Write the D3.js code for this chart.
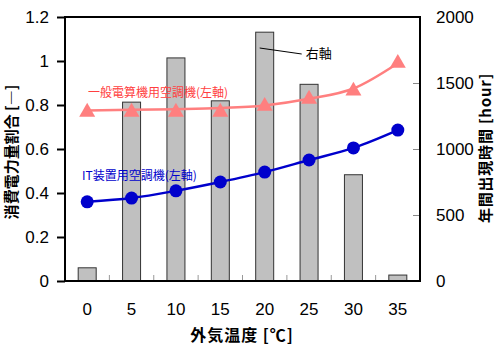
<!DOCTYPE html>
<html lang="ja">
<head>
<meta charset="UTF-8">
<title>外気温度と消費電力量割合</title>
<script src="https://cdn.jsdelivr.net/npm/d3@7"></script>
<style>
  body { margin: 0; background: #fff; }
  svg text { font-family: "Liberation Sans", Arial, sans-serif; }
  .jp { font-family: "Noto Sans CJK JP", sans-serif; }
</style>
</head>
<body>
<script>
  // 外気温度 [℃]
  const temps = [0, 5, 10, 15, 20, 25, 30, 35];
  // 年間出現時間 [hour] (右軸)
  const hours = [100, 1355, 1690, 1365, 1885, 1490, 805, 45];
  // 一般電算機用空調機 (左軸) 実測点と近似曲線
  const generalPts = [0.768, 0.768, 0.768, 0.768, 0.795, 0.827, 0.864, 0.99];
  const generalFit = [0.775, 0.778, 0.781, 0.786, 0.798, 0.828, 0.875, 0.99];
  // IT装置用空調機 (左軸)
  const itPts = [0.36, 0.377, 0.41, 0.45, 0.495, 0.55, 0.605, 0.686];

  const leftTicks = [0, 0.2, 0.4, 0.6, 0.8, 1, 1.2];
  const rightTicks = [0, 500, 1000, 1500, 2000];

  const w = 500, h = 351;
  const m = {left: 65, right: 420, top: 17, bottom: 281};

  const svg = d3.select("body").append("svg")
    .attr("width", w).attr("height", h);

  const x = d3.scaleBand().domain(temps).range([m.left, m.right]);
  const yL = d3.scaleLinear().domain([0, 1.2]).range([m.bottom, m.top]);
  const yR = d3.scaleLinear().domain([0, 2000]).range([m.bottom, m.top]);
  const cx = d => x(d) + x.bandwidth() / 2;

  // bars (右軸)
  const barW = 18;
  svg.append("g").selectAll("rect")
    .data(temps)
    .enter().append("rect")
    .attr("x", (d) => cx(d) - barW / 2)
    .attr("y", (d, i) => yR(hours[i]))
    .attr("width", barW)
    .attr("height", (d, i) => m.bottom - yR(hours[i]))
    .attr("fill", "#c0c0c0")
    .attr("stroke", "#333")
    .attr("stroke-width", 1);

  // left axis
  const leftAxis = d3.axisLeft(yL).tickValues(leftTicks).tickSize(8).tickPadding(8)
    .tickFormat(d => String(d));
  const gl = svg.append("g").attr("transform", "translate(" + m.left + ",0)").call(leftAxis);
  gl.select(".domain").remove();
  gl.selectAll("line").attr("stroke", "#000").attr("stroke-width", 2);
  gl.selectAll("text").attr("font-size", 17).attr("fill", "#000");

  // right axis (inward ticks)
  const rightAxis = d3.axisRight(yR).tickValues(rightTicks).tickSizeInner(-7).tickSizeOuter(0)
    .tickPadding(16).tickFormat(d => String(d));
  const gr = svg.append("g").attr("transform", "translate(" + m.right + ",0)").call(rightAxis);
  gr.select(".domain").remove();
  gr.selectAll("line").attr("stroke", "#888");
  gr.selectAll("text").attr("font-size", 17).attr("fill", "#000");

  // bottom axis: labels at band centers, ticks at band edges
  const bottomAxis = d3.axisBottom(x).tickSize(0).tickPadding(22);
  const gb = svg.append("g").attr("transform", "translate(0," + m.bottom + ")").call(bottomAxis);
  gb.select(".domain").remove();
  gb.selectAll("text").attr("font-size", 17).attr("fill", "#000");
  svg.append("g").selectAll("line")
    .data(temps.slice(1))
    .enter().append("line")
    .attr("x1", d => x(d)).attr("x2", d => x(d))
    .attr("y1", m.bottom).attr("y2", m.bottom - 6)
    .attr("stroke", "#999");

  // frame
  svg.append("rect")
    .attr("x", m.left).attr("y", m.top)
    .attr("width", m.right - m.left).attr("height", m.bottom - m.top)
    .attr("fill", "none").attr("stroke", "#000").attr("stroke-width", 2);

  // 一般電算機用空調機
  const red = "#ff7f7f";
  svg.append("path")
    .datum(temps)
    .attr("d", d3.line().x(d => cx(d)).y((d, i) => yL(generalFit[i])).curve(d3.curveMonotoneX))
    .attr("fill", "none").attr("stroke", red).attr("stroke-width", 2.5);
  svg.append("g").selectAll("path")
    .data(temps)
    .enter().append("path")
    .attr("d", d3.symbol().type(d3.symbolTriangle).size(110))
    .attr("transform", (d, i) => "translate(" + cx(d) + "," + yL(generalPts[i]) + ")")
    .attr("fill", red);

  // IT装置用空調機
  const blue = "#0000cc";
  svg.append("path")
    .datum(temps)
    .attr("d", d3.line().x(d => cx(d)).y((d, i) => yL(itPts[i])).curve(d3.curveMonotoneX))
    .attr("fill", "none").attr("stroke", blue).attr("stroke-width", 2.5);
  svg.append("g").selectAll("circle")
    .data(temps)
    .enter().append("circle")
    .attr("cx", d => cx(d))
    .attr("cy", (d, i) => yL(itPts[i]))
    .attr("r", 6.5)
    .attr("fill", blue);

  // series labels
  svg.append("text").attr("class", "jp")
    .attr("x", 88).attr("y", 97)
    .attr("font-size", 12).attr("fill", "#ff4040")
    .text("一般電算機用空調機(左軸)");
  svg.append("text").attr("class", "jp")
    .attr("x", 82).attr("y", 180)
    .attr("font-size", 12).attr("fill", blue)
    .text("IT装置用空調機(左軸)");

  // 右軸 annotation
  svg.append("line")
    .attr("x1", cx(20) - 5).attr("y1", 48)
    .attr("x2", cx(20) + 37).attr("y2", 54)
    .attr("stroke", "#000").attr("stroke-width", 1);
  svg.append("text").attr("class", "jp")
    .attr("x", cx(20) + 41).attr("y", 58)
    .attr("font-size", 13).attr("fill", "#000")
    .text("右軸");

  // axis titles
  svg.append("text").attr("class", "jp")
    .attr("transform", "translate(17,152) rotate(-90)")
    .attr("text-anchor", "middle")
    .attr("font-size", 15).attr("font-weight", "bold")
    .text("消費電力量割合 [―]");
  svg.append("text").attr("class", "jp")
    .attr("transform", "translate(491,148) rotate(-90)")
    .attr("text-anchor", "middle")
    .attr("font-size", 15).attr("font-weight", "bold")
    .attr("letter-spacing", 0.8)
    .text("年間出現時間 [hour]");
  svg.append("text").attr("class", "jp")
    .attr("x", 242).attr("y", 341)
    .attr("text-anchor", "middle")
    .attr("font-size", 16).attr("font-weight", "bold")
    .attr("letter-spacing", 1)
    .text("外気温度 [℃]");
</script>
</body>
</html>
